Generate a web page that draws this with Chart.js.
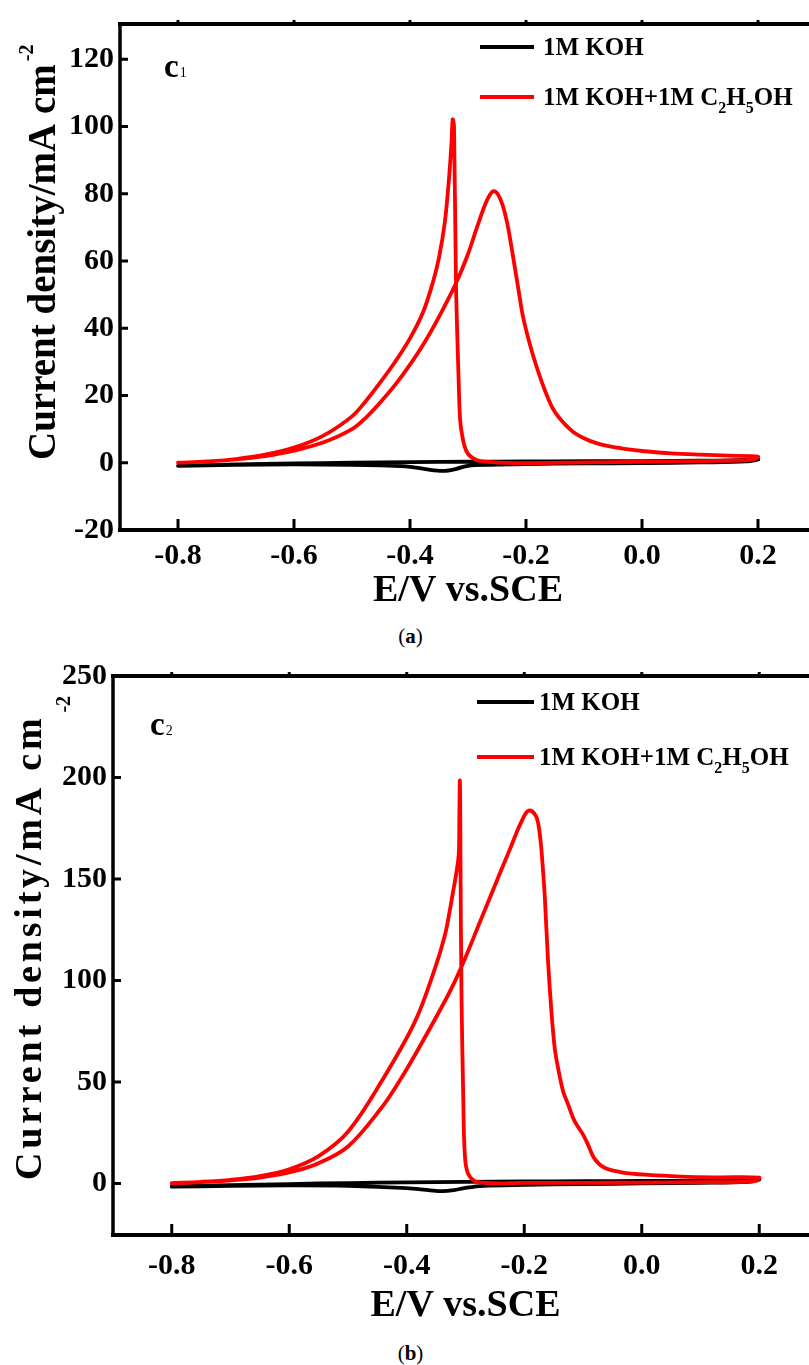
<!DOCTYPE html>
<html>
<head>
<meta charset="utf-8">
<script src="https://cdn.jsdelivr.net/npm/chart.js@4.4.1/dist/chart.umd.min.js"></script>
<style>
html,body{margin:0;padding:0;background:#fff;overflow:hidden;width:809px;height:1365px;position:relative;}
canvas{position:absolute;left:0;}
#ca{top:0;}
#cb{top:652px;}
.cap{position:absolute;left:0;width:821px;text-align:center;font-family:"Liberation Serif","Times New Roman",serif;font-size:21px;line-height:24px;color:#000;}
</style>
</head>
<body>
<canvas id="ca" width="830" height="620"></canvas>
<div class="cap" style="top:624px;">(<b>a</b>)</div>
<canvas id="cb" width="830" height="688"></canvas>
<div class="cap" style="top:1341px;">(<b>b</b>)</div>
<script>
// ---------- DATA ----------
const xTickValues = [-0.8, -0.6, -0.4, -0.2, 0.0, 0.2];
const xTickLabels = ['-0.8', '-0.6', '-0.4', '-0.2', '0.0', '0.2'];
const yTickValuesA = [-20, 0, 20, 40, 60, 80, 100, 120];
const yTickValuesB = [0, 50, 100, 150, 200, 250];

const seriesNames = ['1M KOH', '1M KOH+1M C2H5OH'];

// Panel (a), 1M KOH: forward scan then reverse scan
const aKohE = [-0.80, -0.70, -0.60, -0.50, -0.40, -0.30, -0.20, -0.10, 0.00, 0.10, 0.15, 0.20,
               0.18, 0.10, 0.00, -0.10, -0.20, -0.26, -0.30, -0.32, -0.342, -0.37, -0.40, -0.45, -0.50, -0.60, -0.70, -0.80];
const aKohI = [-0.9, -0.5, -0.2, 0.0, 0.2, 0.3, 0.4, 0.45, 0.5, 0.6, 0.7, 1.0,
               0.4, 0.1, -0.1, -0.2, -0.4, -0.6, -0.9, -1.8, -2.4, -2.0, -1.2, -0.8, -0.6, -0.5, -0.6, -0.9];

// Panel (a), 1M KOH + 1M C2H5OH: forward scan then reverse scan
const aEtohE = [-0.80, -0.75, -0.70, -0.65, -0.60, -0.55, -0.50, -0.475, -0.452, -0.425, -0.40, -0.375, -0.35, -0.321, -0.30, -0.285, -0.271, -0.263, -0.256, -0.249, -0.240, -0.232, -0.222, -0.213, -0.205, -0.193, -0.182, -0.168, -0.153, -0.135, -0.118, -0.10, -0.08, -0.06, -0.04, -0.02, 0.00, 0.05, 0.10, 0.15, 0.20,
                0.19, 0.10, 0.00, -0.10, -0.20, -0.26, -0.285, -0.302, -0.311, -0.314, -0.316, -0.3207, -0.3241, -0.3264, -0.3285, -0.333, -0.34, -0.35, -0.36, -0.377, -0.40, -0.425, -0.45, -0.475, -0.50, -0.55, -0.60, -0.65, -0.70, -0.75, -0.80];
const aEtohI = [0.0, 0.4, 1.0, 2.0, 3.6, 6.0, 10.0, 13.6, 17.8, 23.3, 29.2, 35.8, 43.4, 53.3, 62.1, 69.8, 76.6, 79.5, 80.8, 80.0, 76.5, 71.0, 61.0, 51.5, 43.3, 35.0, 28.7, 21.8, 15.9, 11.8, 9.1, 7.3, 5.9, 5.0, 4.4, 3.9, 3.5, 2.8, 2.4, 2.1, 1.8,
                0.9, 0.5, 0.3, 0.1, -0.1, 0.2, 0.8, 3.2, 9.1, 14.0, 23.8, 53.3, 100.0, 102.1, 95.0, 84.0, 71.5, 61.0, 54.0, 45.0, 37.0, 30.2, 24.2, 18.6, 13.8, 8.0, 4.5, 2.4, 1.1, 0.4, 0.0];

// Panel (b), 1M KOH
const bKohE = [-0.80, -0.70, -0.60, -0.50, -0.40, -0.30, -0.20, -0.10, 0.00, 0.10, 0.15, 0.20,
               0.18, 0.10, 0.00, -0.10, -0.20, -0.27, -0.30, -0.32, -0.339, -0.36, -0.40, -0.50, -0.60, -0.70, -0.80];
const bKohI = [-1.5, -0.8, -0.3, 0.2, 0.5, 0.8, 1.0, 1.1, 1.2, 1.3, 1.5, 2.0,
               0.8, 0.3, 0.0, -0.3, -0.7, -1.2, -2.2, -3.3, -3.8, -3.4, -2.3, -1.2, -1.0, -1.2, -1.6];

// Panel (b), 1M KOH + 1M C2H5OH: forward scan then reverse scan
const bEtohE = [-0.80, -0.75, -0.70, -0.65, -0.60, -0.55, -0.50, -0.443, -0.4145, -0.386, -0.330, -0.3085, -0.273, -0.2447, -0.2333, -0.2218, -0.2107, -0.2019, -0.1963, -0.1923, -0.1865, -0.1800, -0.1767, -0.1735, -0.1707, -0.1651, -0.1594, -0.1537, -0.1481, -0.1424, -0.1339, -0.1253, -0.1145, -0.1004, -0.0919, -0.0803, -0.0633, -0.0347, 0.0107, 0.067, 0.13, 0.20,
                0.19, 0.10, 0.00, -0.10, -0.20, -0.2784, -0.2954, -0.3012, -0.3039, -0.3068, -0.3085, -0.3091, -0.3097, -0.3105, -0.3114, -0.3153, -0.3213, -0.3267, -0.3354, -0.3524, -0.3862, -0.4429, -0.50, -0.55, -0.60, -0.65, -0.70, -0.75, -0.80];
const bEtohI = [0.0, 0.6, 1.5, 2.9, 5.4, 10.0, 18.2, 37.3, 49.5, 63.3, 92.6, 105.6, 130.5, 150.5, 158.5, 166.5, 174.5, 180.0, 182.8, 183.7, 183.3, 181.0, 178.0, 172.0, 164.2, 141.5, 108.9, 84.5, 66.6, 56.8, 45.4, 38.9, 30.8, 24.3, 19.4, 12.1, 7.7, 5.5, 4.2, 3.4, 3.0, 2.8,
                1.0, 0.6, 0.4, 0.3, 0.3, 0.6, 4.7, 14.5, 43.8, 92.6, 157.7, 190.3, 198.4, 180.0, 162.6, 153.5, 143.5, 134.5, 121.9, 105.6, 79.6, 50.3, 25.5, 13.5, 7.0, 3.6, 1.8, 0.8, 0.2];

// ---------- RENDERING ----------
const SERIF = '"Liberation Serif","Times New Roman",serif';
const zip = (xs, ys) => xs.map((v, i) => ({x: v, y: ys[i]}));

function drawRich(ctx, x, y, parts, size, subSize, subDy) {
  let cx = x;
  parts.forEach(p => {
    ctx.font = 'bold ' + (p.sub ? subSize : size) + 'px ' + SERIF;
    ctx.fillText(p.t, cx, y + (p.sub ? subDy : 0));
    cx += ctx.measureText(p.t).width;
  });
}

function makeChart(id, cfg) {
  const deco = {
    id: 'deco',
    afterDraw(chart) {
      const {ctx, chartArea: ca, scales: {x, y}} = chart;
      ctx.save();
      ctx.strokeStyle = '#000';
      ctx.fillStyle = '#000';
      // frame
      ctx.lineWidth = 4;
      ctx.beginPath();
      ctx.moveTo(ca.left - 2, ca.bottom); ctx.lineTo(ca.right + 2, ca.bottom);
      ctx.moveTo(ca.left - 2, ca.top); ctx.lineTo(ca.right + 2, ca.top);
      ctx.stroke();
      ctx.lineWidth = 3.5;
      ctx.beginPath();
      ctx.moveTo(ca.left, ca.top); ctx.lineTo(ca.left, ca.bottom + 2);
      ctx.moveTo(ca.right, ca.top); ctx.lineTo(ca.right, ca.bottom + 2);
      ctx.stroke();
      // ticks (inward)
      ctx.lineWidth = 3;
      ctx.beginPath();
      x.ticks.forEach(t => {
        const px = x.getPixelForValue(t.value);
        ctx.moveTo(px, ca.bottom); ctx.lineTo(px, ca.bottom - 11);
        ctx.moveTo(px, ca.top); ctx.lineTo(px, ca.top - 4);
      });
      y.ticks.forEach(t => {
        const py = y.getPixelForValue(t.value);
        ctx.moveTo(ca.left, py); ctx.lineTo(ca.left + 8, py);
      });
      ctx.stroke();
      // y title
      const yt = cfg.yTitle;
      ctx.save();
      ctx.translate(yt.x, yt.y);
      ctx.rotate(-Math.PI / 2);
      ctx.textBaseline = 'alphabetic';
      ctx.textAlign = 'left';
      ctx.font = 'bold ' + yt.size + 'px ' + SERIF;
      ctx.letterSpacing = yt.spacing + 'px';
      ctx.fillText('Current density/mA cm', 0, 0);
      const w = ctx.measureText('Current density/mA cm').width;
      ctx.letterSpacing = '0px';
      ctx.font = 'bold ' + yt.supSize + 'px ' + SERIF;
      ctx.fillText('-2', w + yt.supDx, yt.supDy);
      ctx.restore();
      // panel tag
      ctx.textBaseline = 'alphabetic';
      ctx.textAlign = 'left';
      ctx.font = 'bold 33px ' + SERIF;
      ctx.fillText('c', cfg.tag.x, cfg.tag.y);
      const cw = ctx.measureText('c').width;
      ctx.font = '14px ' + SERIF;
      ctx.fillText(cfg.tag.sub, cfg.tag.x + cw + 1, cfg.tag.y);
      // legend
      const lg = cfg.legend;
      ctx.lineWidth = 4;
      ctx.strokeStyle = '#000';
      ctx.beginPath(); ctx.moveTo(lg.x1, lg.y1); ctx.lineTo(lg.x2, lg.y1); ctx.stroke();
      ctx.strokeStyle = '#ff0000';
      ctx.beginPath(); ctx.moveTo(lg.x1, lg.y2); ctx.lineTo(lg.x2, lg.y2); ctx.stroke();
      ctx.fillStyle = '#000';
      drawRich(ctx, lg.tx, lg.y1 + lg.base, [{t: seriesNames[0]}], 25, 16, 8);
      drawRich(ctx, lg.tx, lg.y2 + lg.base,
        [{t: '1M KOH+1M C'}, {t: '2', sub: true}, {t: 'H'}, {t: '5', sub: true}, {t: 'OH'}], 25, 16, 8);
      ctx.restore();
    }
  };

  return new Chart(document.getElementById(id), {
    type: 'scatter',
    data: {
      datasets: [
        {label: seriesNames[0], data: zip(cfg.kohE, cfg.kohI), borderColor: '#000000', order: 1},
        {label: seriesNames[1], data: zip(cfg.etohE, cfg.etohI), borderColor: '#ff0000', order: 0}
      ]
    },
    options: {
      responsive: false,
      animation: false,
      devicePixelRatio: 1,
      layout: {padding: {left: 0, top: cfg.padTop, right: cfg.padRight, bottom: 0}},
      showLine: true,
      elements: {
        point: {radius: 0, hoverRadius: 0},
        line: {borderWidth: 3.8, tension: 0.35, fill: false, borderJoinStyle: 'round', borderCapStyle: 'round'}
      },
      plugins: {legend: {display: false}, tooltip: {enabled: false}},
      scales: {
        x: {
          type: 'linear', min: -0.9, max: 0.3,
          grid: {display: false, drawTicks: false},
          border: {display: false},
          afterBuildTicks: s => { s.ticks = xTickValues.map(v => ({value: v})); },
          afterFit: s => { s.height = cfg.xAxisH; },
          ticks: {
            autoSkip: false, maxRotation: 0, padding: cfg.xTickPad, color: '#000',
            font: {family: SERIF, size: 30, weight: 'bold'},
            callback: (v, i) => xTickLabels[i]
          },
          title: {
            display: true, text: 'E/V vs.SCE', color: '#000',
            font: {family: SERIF, size: 38, weight: 'bold', lineHeight: 1.2},
            padding: {top: 0, bottom: cfg.xTitlePad}
          }
        },
        y: {
          type: 'linear', min: cfg.yMin, max: cfg.yMax,
          grid: {display: false, drawTicks: false},
          border: {display: false},
          afterBuildTicks: s => { s.ticks = cfg.yTicks.map(v => ({value: v})); },
          afterFit: s => { s.width = cfg.yAxisW; },
          ticks: {
            autoSkip: false, padding: cfg.yTickPad, color: '#000',
            font: {family: SERIF, size: 30, weight: 'bold'},
            callback: v => String(v)
          }
        }
      }
    },
    plugins: [deco]
  });
}

makeChart('ca', {
  kohE: aKohE, kohI: aKohI, etohE: aEtohE, etohI: aEtohI,
  yMin: -20, yMax: 130.5, yTicks: yTickValuesA,
  padTop: 17, padRight: 14, yAxisW: 120, xAxisH: 90,
  xTickPad: 8, yTickPad: 6, xTitlePad: 6,
  yTitle: {x: 55, y: 460, size: 39, spacing: 0, supSize: 20, supDx: 3, supDy: -22},
  tag: {x: 164, y: 77, sub: '1'},
  legend: {x1: 480, x2: 534, y1: 47, y2: 97, tx: 543, base: 8}
});

makeChart('cb', {
  kohE: bKohE, kohI: bKohI, etohE: bEtohE, etohI: bEtohI,
  yMin: -25.4, yMax: 250, yTicks: yTickValuesB,
  padTop: 19, padRight: 12, yAxisW: 113, xAxisH: 105,
  xTickPad: 13, yTickPad: 6, xTitlePad: 11,
  yTitle: {x: 41, y: 528, size: 38, spacing: 3.8, supSize: 20, supDx: 2, supDy: 29},
  tag: {x: 150, y: 83, sub: '2'},
  legend: {x1: 477, x2: 534, y1: 50, y2: 105, tx: 539, base: 8}
});
</script>
</body>
</html>
